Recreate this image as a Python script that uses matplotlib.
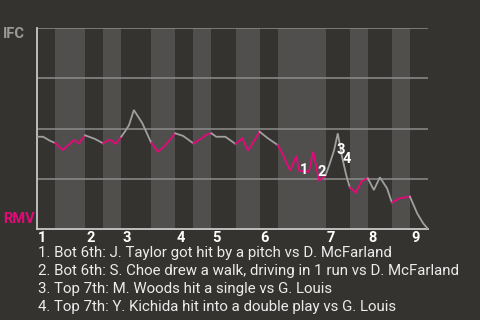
import matplotlib
matplotlib.use("Agg")
import matplotlib.pyplot as plt
import matplotlib.transforms as mtransforms

# ---- data ----
# half-inning boundaries in plate-appearance units (top 1 ... top 9)
half_bounds = [0, 3, 8, 11, 14, 19, 23, 26, 29, 33, 37, 40, 48, 52, 55, 59, 62, 65]
inning_labels = ["1", "2", "3", "4", "5", "6", "7", "8", "9"]
# win probability line (x in PA units, y = IFC win prob)
wp_x = [0, 1.0, 2.16, 3, 4.32, 6.15, 6.98, 8, 9.64, 11, 11.97, 12.5, 13.1, 14,
        14.6, 15.3, 16.1, 17.5, 19, 20.1, 20.9, 22.1, 23, 24.3, 26, 27.1, 28.3, 29,
        29.8, 31.3, 32.3, 33, 34.1, 35.1, 37, 38.4, 40, 40.9, 42.1, 43.1, 43.6, 45.2,
        45.9, 46.9, 47.7, 48, 48.7, 49.4, 50.0, 50.7, 51.4, 52, 53.0, 53.9, 54.4, 55,
        56.0, 57.0, 58.2, 59, 60.3, 62, 63.2, 64.2, 65]
wp_y = [0.459, 0.459, 0.439, 0.428, 0.393, 0.443, 0.426, 0.466, 0.448, 0.426, 0.443,
        0.438, 0.423, 0.459, 0.484, 0.517, 0.592, 0.527, 0.428, 0.385, 0.403, 0.443,
        0.476, 0.463, 0.426, 0.446, 0.471, 0.476, 0.459, 0.459, 0.438, 0.423, 0.451,
        0.390, 0.484, 0.451, 0.418, 0.368, 0.290, 0.363, 0.289, 0.285, 0.385, 0.240,
        0.260, 0.269, 0.328, 0.393, 0.476, 0.360, 0.269, 0.207, 0.181, 0.235, 0.244,
        0.252, 0.194, 0.257, 0.202, 0.131, 0.153, 0.161, 0.078, 0.028, 0.0]
event_labels = ["1", "2", "3", "4"]
event_x = [44.4, 47.4, 50.5, 51.5]
event_y = [0.294, 0.284, 0.393, 0.348]
event_texts = [
    "1. Bot 6th: J. Taylor got hit by a pitch vs D. McFarland",
    "2. Bot 6th: S. Choe drew a walk, driving in 1 run vs D. McFarland",
    "3. Top 7th: M. Woods hit a single vs G. Louis",
    "4. Top 7th: Y. Kichida hit into a double play vs G. Louis",
]
top_team = "IFC"
bottom_team = "RMV"

# ---- style ----
BG = "#353330"
BAND = "#504f4d"
GRAY_LINE = "#a0a0a0"
MAGENTA = "#e5087a"
GRID = "#8c8c8c"
AXIS = "#c8c8c8"
plt.rcParams['font.family'] = ['Roboto', 'DejaVu Sans']

fig = plt.figure(figsize=(4.8, 3.2), dpi=100, facecolor=BG)
ax = fig.add_axes([37/480, 91/320, 391/480, 201/320])
ax.set_facecolor(BG)
ax.set_xlim(half_bounds[0], half_bounds[-1])
ax.set_ylim(0, 1)

# bands: bottom halves lighter
for i in range(len(half_bounds) - 1):
    if i % 2 == 1:
        ax.axvspan(half_bounds[i], half_bounds[i + 1], color=BAND, lw=0, zorder=0)

for g in [0.25, 0.5, 0.75, 1.0]:
    ax.axhline(g, color=GRID, lw=1.1, zorder=1)

for s in ["top", "right"]:
    ax.spines[s].set_visible(False)
for s in ["left", "bottom"]:
    ax.spines[s].set_color(AXIS)
    ax.spines[s].set_linewidth(1.3)
ax.set_xticks([])
ax.set_yticks([])

# line, colored per half-inning
for i in range(len(half_bounds) - 1):
    a, b = half_bounds[i], half_bounds[i + 1]
    xs = [x for x in wp_x if a <= x <= b]
    ys = [y for x, y in zip(wp_x, wp_y) if a <= x <= b]
    col = MAGENTA if i % 2 == 1 else GRAY_LINE
    ax.plot(xs, ys, color=col, lw=1.3, zorder=3, solid_joinstyle='miter')

# event numbers
for lab, x, y in zip(event_labels, event_x, event_y):
    ax.text(x, y, lab, color="white", fontsize=10.5, fontweight="bold",
            ha="center", va="center", zorder=4)

# inning labels
blend = mtransforms.blended_transform_factory(ax.transData, ax.transAxes)
trans = mtransforms.offset_copy(blend, fig=fig, x=1.0, y=-9, units='dots')
tops = half_bounds[0::2]
for lab, x in zip(inning_labels, tops):
    ax.text(x, 0, lab, transform=trans, color="white", fontsize=10.5,
            fontweight="bold", ha="left", va="center")

fig.text(3/480, 1 - 34/320, top_team, color="#9a9a9a", fontsize=10.5,
         fontweight="bold", ha="left", va="center")
fig.text(3/480, 1 - 219/320, bottom_team, color=MAGENTA, fontsize=10.5,
         fontweight="bold", ha="left", va="center")

for k, t in enumerate(event_texts):
    fig.text(38/480, 1 - (253 + 17.9 * k)/320, t, color="#ececec",
             fontsize=10.8, ha="left", va="center")

fig.savefig("out.png", dpi=100, facecolor=BG)
